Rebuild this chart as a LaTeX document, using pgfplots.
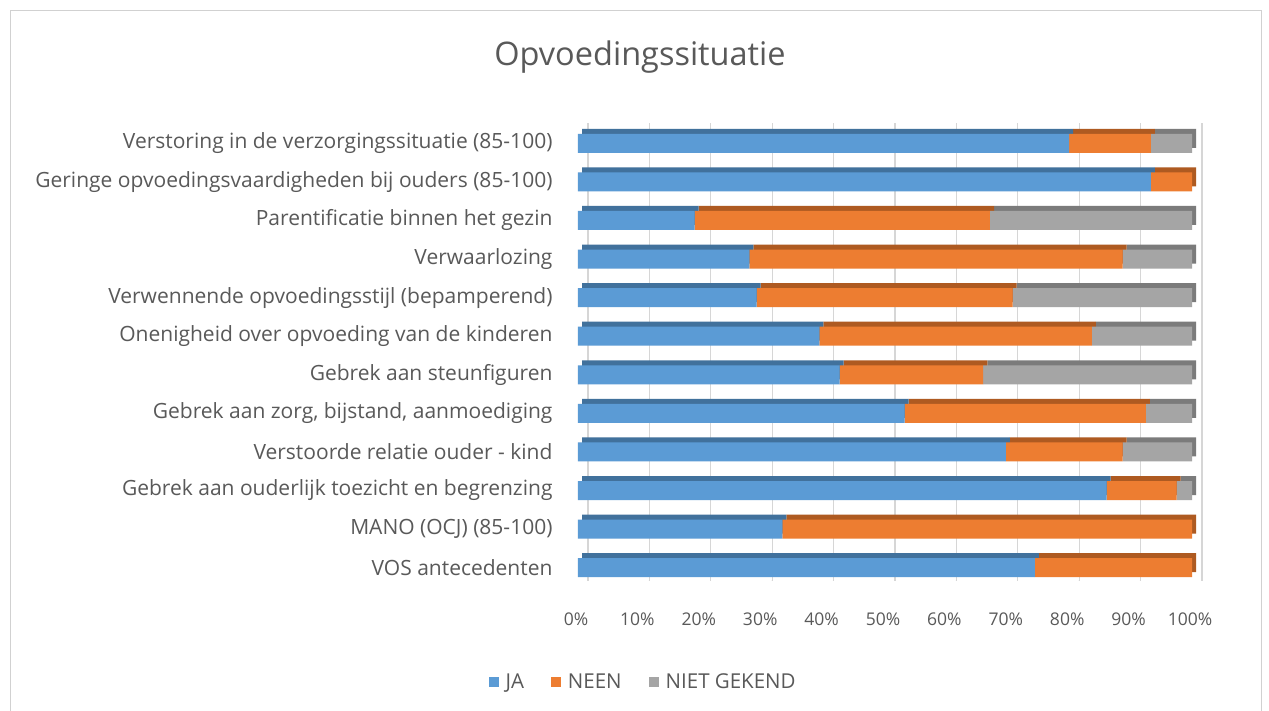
\documentclass[border=0pt]{standalone}
\usepackage{pgfplots}
\pgfplotsset{compat=1.18}
\usepackage{pgfplotstable}
\usepackage{fontspec}
\setmainfont{Open Sans}
\definecolor{txt}{HTML}{595959}
\definecolor{cja}{HTML}{5B9BD5}
\definecolor{cneen}{HTML}{ED7D31}
\definecolor{cniet}{HTML}{A5A5A5}
\definecolor{dja}{HTML}{41719C}
\definecolor{dneen}{HTML}{AE5A21}
\definecolor{dniet}{HTML}{7B7B7B}

\pgfplotstableread{
y ja neen niet
0 74.4 25.6 0
1 33.3 66.7 0
2 86.1 11.4 2.5
3 69.7 19.0 11.3
4 53.2 39.3 7.5
5 42.6 23.4 34.0
6 39.3 44.4 16.3
7 29.1 41.7 29.2
8 27.9 60.8 11.3
9 19.0 48.1 32.9
10 93.3 6.7 0
11 80.0 13.3 6.7
}\datatable

\pgfplotsset{
  base/.style={
    scale only axis, width=614pt, height=463pt,
    xmin=0, xmax=100, ymin=-0.5, ymax=11.5,
    anchor=south west,
    axis line style={draw=none},
    tick style={draw=none},
  },
}

\begin{document}
\begin{tikzpicture}
\useasboundingbox (0,0) rectangle (1269pt,711pt);
\fill[white] (0,0) rectangle (1269pt,711pt);
\draw[color=black!18, line width=0.8pt] (10pt,-10pt) rectangle (1261pt,701pt);
\node[text=txt, font=\fontsize{32.5}{38}\selectfont] at (640pt,654pt) {Opvoedingssituatie};

% back wall grid
\begin{axis}[base, at={(588pt,130pt)}, height=458pt,
  xtick={0,10,...,100}, xticklabels={}, ytick=\empty,
  xmajorgrids, grid style={black!16, line width=1.3pt}]
  \addplot[draw=none] coordinates {(0,0)};
  \pgfplotsinvokeforeach{0,10,...,100}{
    \draw[black!16, line width=1.3pt] (axis cs:#1,-0.5) -- ++(-11pt,-17pt);
  }
\end{axis}

% 3D depth (dark faces)
\begin{axis}[base, at={(582pt,129pt)}, xbar stacked, bar width=19pt,
  xtick=\empty, ytick=\empty]
  \addplot[fill=dja, draw=none] table[x=ja, y=y] {\datatable};
  \addplot[fill=dneen, draw=none] table[x=neen, y=y] {\datatable};
  \addplot[fill=dniet, draw=none] table[x=niet, y=y] {\datatable};
\end{axis}

% front faces
\begin{axis}[base, at={(578pt,124pt)}, xbar stacked, bar width=19pt,
  xtick={0,10,...,100},
  xticklabels={0\%,10\%,20\%,30\%,40\%,50\%,60\%,70\%,80\%,90\%,100\%},
  xticklabel style={text=txt, font=\fontsize{17.5}{21}\selectfont, yshift=-22pt, xshift=-2pt},
  ytick={0,...,11},
  yticklabels={VOS antecedenten, MANO (OCJ) (85-100), Gebrek aan ouderlijk toezicht en begrenzing~, Verstoorde relatie ouder - kind, {Gebrek aan zorg, bijstand, aanmoediging}, Gebrek aan steunfiguren, Onenigheid over opvoeding van de kinderen~, Verwennende opvoedingsstijl (bepamperend), Verwaarlozing, Parentificatie binnen het gezin, Geringe opvoedingsvaardigheden bij ouders (85-100), Verstoring in de verzorgingssituatie (85-100)},
  yticklabel style={text=txt, font=\fontsize{21}{25}\selectfont, xshift=-22pt},
  legend columns=3,
  legend style={draw=none, fill=none, at={(0.106,-0.205)}, anchor=center,
    font=\fontsize{20.5}{24}\selectfont, text=txt,
    /tikz/every odd column/.append style={column sep=5pt},
    /tikz/every even column/.append style={column sep=25pt}},
  legend image code/.code={\fill[#1] (0pt,-5pt) rectangle (10pt,5pt);},
]
  \addplot[fill=cja, draw=none] table[x=ja, y=y] {\datatable};
  \addplot[fill=cneen, draw=none] table[x=neen, y=y] {\datatable};
  \addplot[fill=cniet, draw=none] table[x=niet, y=y] {\datatable};
  \legend{JA, NEEN, NIET GEKEND}
\end{axis}
\end{tikzpicture}
\end{document}
